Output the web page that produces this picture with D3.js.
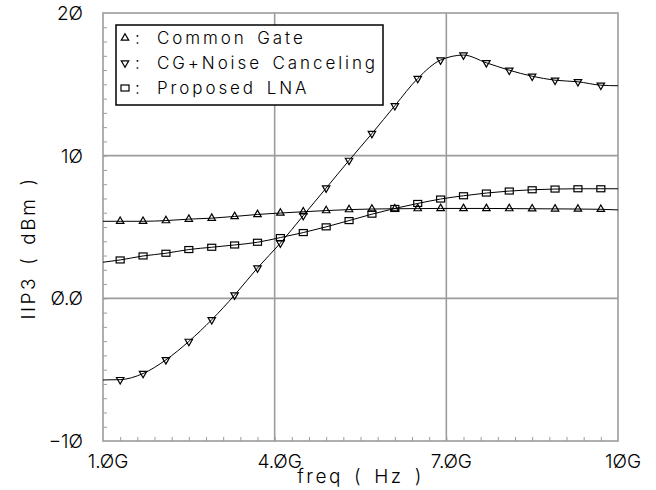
<!DOCTYPE html>
<html>
<head>
<meta charset="utf-8">
<script src="https://cdn.jsdelivr.net/npm/d3@7"></script>
<style>
	html, body { margin: 0; padding: 0; background: #fff; }
	svg text {
		font-family: Inter, "DejaVu Sans", sans-serif;
		font-weight: 300;
		fill: #000;
	}
	.grid line, .frame { stroke: #9c9c9c; stroke-width: 1.6; fill: none; }
	.minor line { stroke: #9c9c9c; stroke-width: 1; }
	.minor path { display: none; }
	.curve { fill: none; stroke: #000; stroke-width: 1; }
	.mark { fill: none; stroke: #000; stroke-width: 1.2; }
</style>
</head>
<body>
<div id="graphic"></div>
<script>
// frequency sweep (GHz), markers sit on the inner points
const freqs = [1.0, 1.3, 1.7, 2.1, 2.5, 2.9, 3.3, 3.7, 4.1, 4.5, 4.9, 5.3,
	5.7, 6.1, 6.5, 6.9, 7.3, 7.7, 8.1, 8.5, 8.9, 9.3, 9.7, 10.0];

// IIP3 in dBm
const commonGate = [5.40, 5.40, 5.40, 5.45, 5.55, 5.62, 5.74, 5.88, 5.98, 6.07, 6.15, 6.22,
	6.26, 6.28, 6.29, 6.30, 6.30, 6.30, 6.29, 6.28, 6.27, 6.26, 6.24, 6.20];
const cgNoiseCanceling = [-5.72, -5.70, -5.27, -4.31, -3.02, -1.50, 0.23, 2.13, 3.87, 5.80, 7.73, 9.67,
	11.55, 13.50, 15.41, 16.70, 17.05, 16.51, 15.99, 15.57, 15.29, 15.18, 14.94, 14.90];
const proposedLna = [2.53, 2.69, 2.97, 3.16, 3.42, 3.58, 3.74, 3.93, 4.26, 4.61, 5.01, 5.45,
	5.90, 6.30, 6.65, 6.96, 7.19, 7.38, 7.52, 7.61, 7.66, 7.68, 7.68, 7.68];

const seriesNames = ["Common Gate", "CG+Noise Canceling", "Proposed LNA"];
const seriesMarks = ["up", "down", "square"];

// the plotter prints zeros slashed
const xTicks = [1, 4, 7, 10];
const xTickLabels = ["1.ØG", "4.ØG", "7.ØG", "1ØG"];
const yTicks = [-10, 0, 10, 20];
const yTickLabels = ["\u22121Ø", "Ø.Ø", "1Ø", "2Ø"];

const xLabel = "freq ( Hz )";
const yLabel = "IIP3 ( dBm )";

const width = 656, heightTotal = 490;
const margin = { top: 13, right: 38, bottom: 49, left: 103 };
const chartWidth = width - margin.left - margin.right;
const height = heightTotal - margin.top - margin.bottom;

const x = d3.scaleLinear().domain([1, 10]).range([0, chartWidth]);
const y = d3.scaleLinear().domain([-10, 20]).range([height, 0]);

const svg = d3.select('#graphic')
	.append('svg')
	.attr('width', width)
	.attr('height', heightTotal)
	.append('g')
	.attr('transform', `translate(${margin.left},${margin.top})`);

// grid lines at the labelled values (not on the frame)
const grid = svg.append('g').attr('class', 'grid');

grid.selectAll('line.v')
	.data(xTicks.slice(1, -1))
	.join('line')
	.attr('class', 'v')
	.attr('x1', d => x(d)).attr('x2', d => x(d))
	.attr('y1', 0).attr('y2', height);

grid.selectAll('line.h')
	.data(yTicks.slice(1, -1))
	.join('line')
	.attr('class', 'h')
	.attr('x1', 0).attr('x2', chartWidth)
	.attr('y1', d => y(d)).attr('y2', d => y(d));

// minor ticks pointing inwards
svg.append('g')
	.attr('class', 'minor')
	.call(d3.axisLeft(y).tickValues(d3.range(-9, 20, 1)).tickSize(-4).tickFormat(''));

svg.append('g')
	.attr('class', 'minor')
	.attr('transform', `translate(0,${height})`)
	.call(d3.axisBottom(x).tickValues(d3.range(1, 31).map(i => 1 + i * 0.3).filter(v => v < 9.95)).tickSize(-4).tickFormat(''));

svg.append('rect')
	.attr('class', 'frame')
	.attr('width', chartWidth)
	.attr('height', height);

// tick labels
svg.append('g')
	.selectAll('text')
	.data(xTicks)
	.join('text')
	.attr('x', d => x(d) + 5)
	.attr('y', height + 27)
	.attr('text-anchor', 'middle')
	.style('font-size', '19px')
	.text((d, i) => xTickLabels[i]);

svg.append('g')
	.selectAll('text')
	.data(yTicks)
	.join('text')
	.attr('x', -20)
	.attr('y', d => y(d))
	.attr('dy', '0.36em')
	.attr('text-anchor', 'end')
	.style('font-size', '19px')
	.text((d, i) => yTickLabels[i]);

// axis titles
svg.append('text')
	.attr('x', chartWidth / 2)
	.attr('y', height + 42)
	.attr('text-anchor', 'middle')
	.style('font-size', '19px')
	.style('letter-spacing', '2.6px')
	.style('word-spacing', '3px')
	.text(xLabel);

svg.append('text')
	.attr('transform', `translate(${-68},${(height / 2) + 21}) rotate(-90)`)
	.attr('text-anchor', 'middle')
	.style('font-size', '19px')
	.style('letter-spacing', '2.6px')
	.style('word-spacing', '3px')
	.text(yLabel);

// curves
const seriesData = [commonGate, cgNoiseCanceling, proposedLna].map((vals, i) => ({
	name: seriesNames[i],
	mark: seriesMarks[i],
	values: freqs.map((f, j) => ({ f: f, v: vals[j] }))
}));

const line = d3.line()
	.x(d => x(d.f))
	.y(d => y(d.v))
	.curve(d3.curveMonotoneX);

svg.append('g')
	.selectAll('path')
	.data(seriesData)
	.join('path')
	.attr('class', 'curve')
	.attr('d', d => line(d.values));

const tri = d3.symbol().type(d3.symbolTriangle).size(24);

function drawMark(sel, kind) {
	if (kind === 'square') {
		sel.append('rect')
			.attr('class', 'mark')
			.attr('x', -4).attr('y', -3)
			.attr('width', 8).attr('height', 6);
	} else {
		sel.append('path')
			.attr('class', 'mark')
			.attr('d', tri)
			.attr('transform', kind === 'down' ? 'rotate(180)' : null);
	}
}

seriesData.forEach(s => {
	svg.append('g')
		.selectAll('g')
		.data(s.values.slice(1, -1))
		.join('g')
		.attr('transform', d => `translate(${x(d.f)},${y(d.v)})`)
		.each(function () { drawMark(d3.select(this), s.mark); });
});

// legend
const legend = svg.append('g').attr('transform', 'translate(13,12)');

legend.append('rect')
	.attr('width', 267)
	.attr('height', 80)
	.attr('fill', '#fff')
	.attr('stroke', '#000')
	.attr('stroke-width', 1.5);

const item = legend.selectAll('g.item')
	.data(seriesData)
	.join('g')
	.attr('class', 'item')
	.attr('transform', (d, i) => `translate(9,${13 + i * 25})`);

item.each(function (d) { drawMark(d3.select(this), d.mark); });

item.append('text')
	.attr('x', 10)
	.attr('dy', '0.36em')
	.style('font-size', '17px')
	.text(':');

item.append('text')
	.attr('x', 32)
	.attr('dy', '0.36em')
	.style('font-size', '17px')
	.style('letter-spacing', '2.9px')
	.style('word-spacing', '3px')
	.text(d => d.name);
</script>
</body>
</html>
